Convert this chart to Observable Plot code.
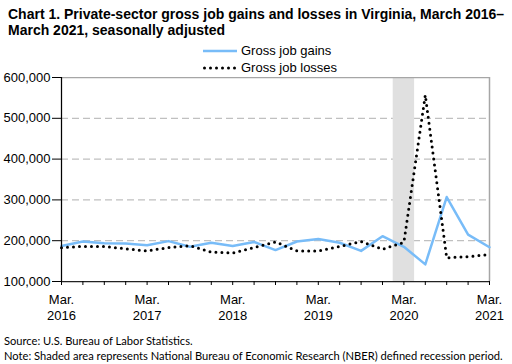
<!DOCTYPE html>
<html><head><meta charset="utf-8">
<script src="https://cdn.jsdelivr.net/npm/d3@7"></script>
<script src="https://cdn.jsdelivr.net/npm/@observablehq/plot@0.6"></script>
<style>
body{margin:0;background:#fff}
#wrap{position:relative;width:512px;height:364px;overflow:hidden;font-family:"Liberation Sans",Arial,sans-serif;color:#000}
#chart{position:absolute;left:0;top:0}
#title{position:absolute;left:8px;top:7px;font-weight:bold;font-size:14px;line-height:15.5px;white-space:nowrap}
.leg{position:absolute;left:203px;font-size:13px;line-height:16px;white-space:nowrap;display:flex;align-items:center}
.leg svg{margin-right:4px}
.note{position:absolute;left:4px;font-family:Lato,"Open Sans",sans-serif;font-size:11px;line-height:13px;white-space:nowrap}
</style></head>
<body>
<div id="wrap">
  <div id="chart"></div>
  <div id="title">Chart 1. Private-sector gross job gains and losses in Virginia, March 2016–<br>March 2021, seasonally adjusted</div>
  <div class="leg" style="top:43px"><svg width="34" height="6"><line x1="0" x2="34" y1="3" y2="3" stroke="#78bcf8" stroke-width="2.5"/></svg><span>Gross job gains</span></div>
  <div class="leg" style="top:60px"><svg width="34" height="6"><line x1="1.5" x2="34" y1="3" y2="3" stroke="#000" stroke-width="3" stroke-dasharray="0,6" stroke-linecap="round"/></svg><span>Gross job losses</span></div>
  <div class="note" id="src" style="top:334px">Source: U.S. Bureau of Labor Statistics.</div>
  <div class="note" id="nt" style="top:348.5px">Note: Shaded area represents National Bureau of Economic Research (NBER) defined recession period.</div>
</div>
<script>
const quarters = ["Mar. 2016","Jun. 2016","Sep. 2016","Dec. 2016",
  "Mar. 2017","Jun. 2017","Sep. 2017","Dec. 2017",
  "Mar. 2018","Jun. 2018","Sep. 2018","Dec. 2018",
  "Mar. 2019","Jun. 2019","Sep. 2019","Dec. 2019",
  "Mar. 2020","Jun. 2020","Sep. 2020","Dec. 2020",
  "Mar. 2021"];
const gains = [187000,198000,194000,193000,189000,199000,185000,195000,187000,197000,177000,198000,204000,195000,175000,211000,185000,142000,307000,215000,184000];
const losses = [183000,186000,186000,180000,175000,183000,188000,172000,170000,183000,197000,175000,175000,186000,198000,179000,196000,557000,158000,161000,166000];
const recessionQuarters = ["Mar. 2020"];
const yTicks = [100000,200000,300000,400000,500000,600000];

const idx = q => quarters.indexOf(q);
const rows = quarters.map((q,i)=>({i, q, gains: gains[i], losses: losses[i]}));
const last = quarters.length - 1;
const labelIdx = quarters.map((q,i)=>i).filter(i => quarters[i].startsWith("Mar."));

const chart = Plot.plot({
  width: 512, height: 364,
  marginLeft: 61, marginRight: 23, marginTop: 77, marginBottom: 83,
  style: {fontFamily: "Liberation Sans, Arial, sans-serif", fontSize: "13px", color: "#000", background: "transparent"},
  x: {domain: [0, last]},
  y: {domain: [yTicks[0], yTicks[yTicks.length-1]]},
  marks: [
    Plot.ruleY(yTicks.slice(1, -1), {stroke: "#c0c0c0", strokeDasharray: "7,4", strokeWidth: 1.25}),
    Plot.rect(recessionQuarters, {x1: d => idx(d) - 0.5, x2: d => idx(d) + 0.5, fill: "#e0e0e0"}),
    Plot.ruleY([yTicks[yTicks.length-1]], {stroke: "#a6a6a6", strokeWidth: 1.25}),
    Plot.ruleX([last], {stroke: "#a6a6a6", strokeWidth: 1.5}),
    Plot.line(rows, {x: "i", y: "gains", stroke: "#78bcf8", strokeWidth: 2.5}),
    Plot.line(rows, {x: "i", y: "losses", stroke: "#000", strokeWidth: 3, strokeDasharray: "0,6", strokeLinecap: "round"}),
    Plot.ruleX([0], {stroke: "#000", strokeWidth: 1.25}),
    Plot.ruleY([yTicks[0]], {stroke: "#222", strokeWidth: 1.25}),
    Plot.axisY({ticks: yTicks, tickSize: 9, tickPadding: 2, tickFormat: d3.format(","), label: null, stroke: "#000"}),
    Plot.axisX({ticks: rows.map(d => d.i), tickSize: 4, tickFormat: () => "", label: null, stroke: "#000"}),
    Plot.axisX({ticks: labelIdx, tickSize: 0, tickPadding: 12, tickFormat: i => quarters[i].replace(" ", "\n"), lineHeight: 1.17, label: null})
  ]
});
document.getElementById("chart").appendChild(chart);

// fit note widths to the reference
const nt = document.getElementById("nt");
const w = nt.getBoundingClientRect().width;
const fs = 11 * 499 / w;
document.querySelectorAll(".note").forEach(e => e.style.fontSize = fs.toFixed(2) + "px");
</script>
</body></html>
